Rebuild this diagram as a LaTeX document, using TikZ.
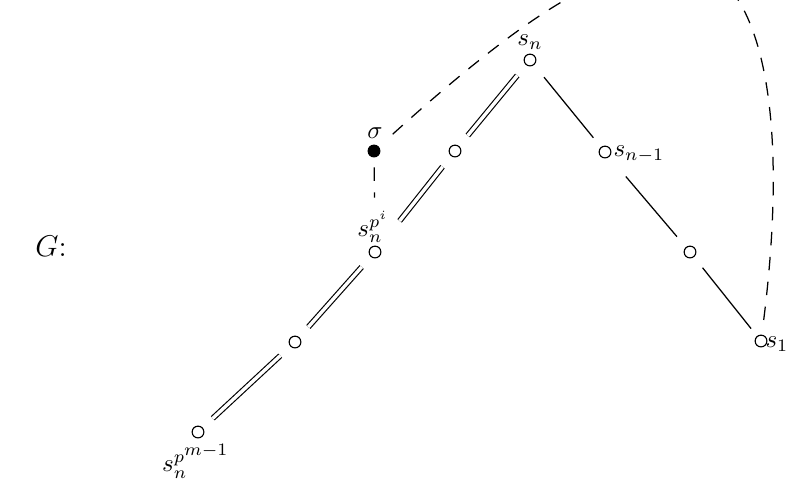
\documentclass[tikz,border=0pt]{standalone}
\begin{document}
\tikzset{
  vtx/.style={circle, draw, line width=0.45pt, minimum size=4.7pt, inner sep=0pt, outer sep=0pt, fill=white},
  fvtx/.style={vtx, fill=black},
  lab/.style={inner sep=0pt},
  dbl/.style={double, double distance=1.35pt, line width=0.46pt, shorten <=5.7pt, shorten >=5.7pt},
  sgl/.style={line width=0.5pt, shorten <=5.7pt, shorten >=5.7pt},
  dsh/.style={line width=0.5pt, dash pattern=on 5.4pt off 4.6pt},
}
\begin{tikzpicture}[x=0.4pt, y=-0.4pt]
  \useasboundingbox (0,0) rectangle (787,481);
  \clip (0,0) rectangle (787,481);
  % vertices
  \node[vtx]  (sn)  at (530,60)  {};
  \node[fvtx] (sig) at (374,151) {};
  \node[vtx]  (a1)  at (455,151) {};
  \node[vtx]  (snm) at (605,152) {};
  \node[vtx]  (spi) at (375,252) {};
  \node[vtx]  (b1)  at (690,252) {};
  \node[vtx]  (a2)  at (295,342) {};
  \node[vtx]  (s1)  at (761,341) {};
  \node[vtx]  (spm) at (198,432) {};
  \coordinate (pk) at (683,-36);
  % labels
  \node[lab] (lsn)  at (530,42)  {$s_n$};
  \node[lab] (lsig) at (375,133) {$\sigma$};
  \node[lab] (lspi) at (373,227) {$s_n^{p^i}$};
  \node[lab, anchor=west] (lsnm) at (613,154) {$s_{n-1}$};
  \node[lab, anchor=west] (ls1)  at (765,344) {$s_1$};
  \node[lab] (lspm) at (196,461) {$s_n^{p^{\scriptstyle m-1}}$};
  \node[lab, font=\large] (G) at (51,246) {$G$:};
  % edges
  \draw[dbl] (sn) -- (a1);
  \draw[dbl, shorten >=13.5pt] (a1) -- (spi);
  \draw[dbl] (spi) -- (a2);
  \draw[dbl] (a2) -- (spm);
  \draw[sgl, shorten <=6.5pt, shorten >=5pt] (sn) -- (snm);
  \draw[sgl, shorten <=10.5pt] (snm) -- (b1);
  \draw[sgl, shorten >=4pt] (b1) -- (s1);
  \draw[dsh, shorten <=4.2pt, shorten >=19.4pt] (sig) -- (spi);
  \draw[dsh, shorten <=7.7pt, shorten >=3.6pt] (sig) .. controls (544,-2) and (613,-36) .. (pk)
     .. controls (748,-36) and (795,77) .. (s1);
\end{tikzpicture}
\end{document}
